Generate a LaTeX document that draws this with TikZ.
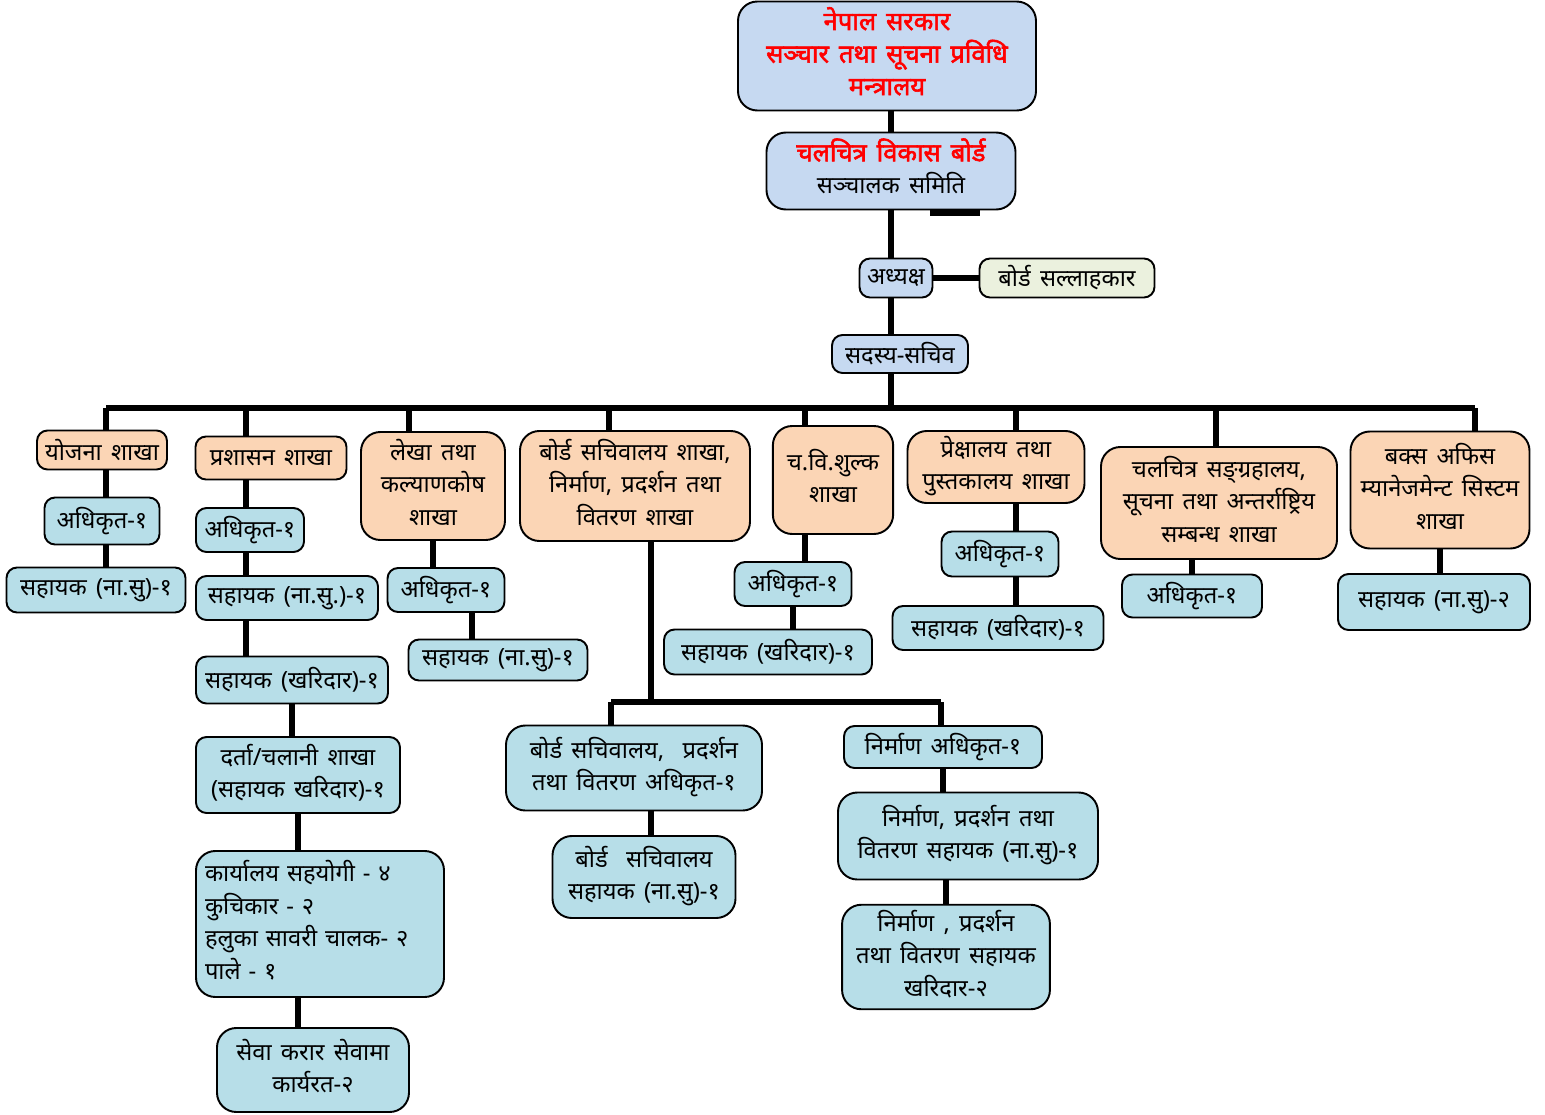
\documentclass[tikz,border=0pt]{standalone}
\usepackage{fontspec}
\setmainfont[Script=Devanagari, WordSpace=1.5]{Noto Sans}
\newfontfamily\titlefont[Script=Devanagari, WordSpace=1.5, FakeBold=2.2]{Noto Sans}
\usepackage{xcolor}
\usepackage{tikz}
\usetikzlibrary{calc}
\definecolor{topblue}{HTML}{C6D9F1}
\definecolor{advgreen}{HTML}{EBF1DE}
\definecolor{branchorange}{HTML}{FBD5B5}
\definecolor{postblue}{HTML}{B7DEE8}
\newcommand{\rtitle}[1]{\textcolor{red}{\titlefont\fontsize{14.5}{18.5}\selectfont #1}}
\tikzset{
    unit/.style={
      rectangle,
      rounded corners=6pt,
      draw=black, line width=1.1pt,
      inner sep=2pt,
      text centered,
      font=\fontsize{13.5}{18.5}\selectfont,
    },
    wh/.style 2 args={minimum width=#1*0.02cm, minimum height=#2*0.02cm},
    head/.style={unit, fill=topblue},
    adviser/.style={unit, fill=advgreen},
    branch/.style={unit, fill=branchorange},
    post/.style={unit, fill=postblue},
    big/.style={rounded corners=11pt},
    link/.style={line width=2.9pt},
}

\begin{document}
\begin{tikzpicture}[x=0.02cm, y=-0.02cm]
    \useasboundingbox (0,0) rectangle (1545,1115);

    % top of the chart
    \node[head, big, wh={298}{109}] (MIN) at (887,56)
    {
      \begin{tabular}{c}
        \rtitle{नेपाल सरकार} \\
        \rtitle{सञ्चार तथा सूचना प्रविधि} \\
        \rtitle{मन्त्रालय}
      \end{tabular}
    };

    \node[head, big, wh={249}{77}] (BOARD) at (891,171)
    {
      \begin{tabular}{c}
        \rtitle{चलचित्र विकास बोर्ड} \\
        सञ्चालक समिति
      \end{tabular}
    };

    \node[head, wh={73}{39}] (CHAIR) at (896,278) {अध्यक्ष};
    \node[adviser, wh={175}{39}] (ADV) at (1067,278) {बोर्ड सल्लाहकार};
    \node[head, wh={136}{38}] (SEC) at (900,354) {सदस्य-सचिव};

    % branches
    \node[branch, wh={130}{39}] (B1) at (102,450) {योजना शाखा};
    \node[branch, wh={151}{43}] (B2) at (271,458) {प्रशासन शाखा};

    \node[branch, big, wh={144}{108}] (B3) at (433,486)
    {
      \begin{tabular}{c}
        लेखा तथा \\
        कल्याणकोष \\
        शाखा
      \end{tabular}
    };

    \node[branch, big, wh={230}{110}] (B4) at (635,486)
    {
      \begin{tabular}{c}
        बोर्ड सचिवालय शाखा, \\
        निर्माण, प्रदर्शन तथा \\
        वितरण शाखा
      \end{tabular}
    };

    \node[branch, big, wh={120}{108}] (B5) at (833,480)
    {
      \begin{tabular}{c}
        च.वि.शुल्क \\
        शाखा
      \end{tabular}
    };

    \node[branch, big, wh={177}{72}] (B6) at (996,467)
    {
      \begin{tabular}{c}
        प्रेक्षालय तथा \\
        पुस्तकालय शाखा
      \end{tabular}
    };

    \node[branch, big, wh={236}{112}] (B7) at (1219,503)
    {
      \begin{tabular}{c}
        चलचित्र सङ्ग्रहालय, \\
        सूचना तथा अन्तर्राष्ट्रिय \\
        सम्बन्ध शाखा
      \end{tabular}
    };

    \node[branch, big, wh={179}{117}] (B8) at (1440,490)
    {
      \begin{tabular}{@{}c@{}}
        बक्स अफिस \\
        म्यानेजमेन्ट सिस्टम \\
        शाखा
      \end{tabular}
    };

    % posts under each branch
    \node[post, wh={115}{47}] (B1a) at (102,521) {अधिकृत-१};
    \node[post, wh={179}{45}] (B1b) at (96,590) {सहायक (ना.सु)-१};

    \node[post, wh={108}{44}] (B2a) at (250,530) {अधिकृत-१};
    \node[post, wh={182}{44}] (B2b) at (287,598) {सहायक (ना.सु.)-१};
    \node[post, wh={192}{47}] (B2c) at (292,680) {सहायक (खरिदार)-१};

    \node[post, wh={204}{76}] (B2d) at (298,775)
    {
      \begin{tabular}{c}
        दर्ता/चलानी शाखा \\
        (सहायक खरिदार)-१
      \end{tabular}
    };

    \node[post, big, wh={248}{146}, text width=4.6cm, align=left] (B2e) at (320,924)
    {
      \begin{tabular}{@{}l}
        कार्यालय सहयोगी - ४ \\
        कुचिकार - २ \\
        हलुका सावरी चालक- २ \\
        पाले - १
      \end{tabular}
    };

    \node[post, big, wh={192}{84}] (B2f) at (313,1070)
    {
      \begin{tabular}{c}
        सेवा करार सेवामा \\
        कार्यरत-२
      \end{tabular}
    };

    \node[post, wh={117}{44}] (B3a) at (446,590) {अधिकृत-१};
    \node[post, wh={179}{41}] (B3b) at (498,660) {सहायक (ना.सु)-१};

    \node[post, big, wh={256}{85}] (B4a) at (634,768)
    {
      \begin{tabular}{c}
        बोर्ड सचिवालय,\ \ प्रदर्शन \\
        तथा वितरण अधिकृत-१
      \end{tabular}
    };

    \node[post, big, wh={183}{82}] (B4b) at (644,877)
    {
      \begin{tabular}{c}
        बोर्ड\ \ सचिवालय \\
        सहायक (ना.सु)-१
      \end{tabular}
    };

    \node[post, wh={198}{42}] (B4c) at (943,747) {निर्माण अधिकृत-१};

    \node[post, big, wh={260}{87}] (B4d) at (968,836)
    {
      \begin{tabular}{c}
        निर्माण, प्रदर्शन तथा \\
        वितरण सहायक (ना.सु)-१
      \end{tabular}
    };

    \node[post, big, wh={204}{104}] (B4e) at (946,957)
    {
      \begin{tabular}{c}
        निर्माण , प्रदर्शन \\
        तथा वितरण सहायक \\
        खरिदार-२
      \end{tabular}
    };

    \node[post, wh={117}{44}] (B5a) at (793,584) {अधिकृत-१};
    \node[post, wh={208}{45}] (B5b) at (768,652) {सहायक (खरिदार)-१};

    \node[post, wh={117}{45}] (B6a) at (1000,554) {अधिकृत-१};
    \node[post, wh={211}{44}] (B6b) at (998,628) {सहायक (खरिदार)-१};

    \node[post, wh={140}{43}] (B7a) at (1192,596) {अधिकृत-१};

    \node[post, wh={192}{56}] (B8a) at (1434,602) {सहायक (ना.सु)-२};

    % bus points
    \coordinate (D1) at (106,408);
    \coordinate (D2) at (246,408);
    \coordinate (D3) at (409,408);
    \coordinate (D4) at (609,408);
    \coordinate (D5) at (805,408);
    \coordinate (D6) at (1016,408);
    \coordinate (D7) at (1216,408);
    \coordinate (D8) at (1475,408);
    \coordinate (E0) at (651,702);
    \coordinate (EL) at (611,702);
    \coordinate (ER) at (941,702);
    \coordinate (STUBL) at (930,213);
    \coordinate (STUBR) at (980,213);
    \coordinate (M3) at ($(B3a.south)!0.5!(B3b.north)$);

    % trunk
    \draw[link] (MIN.south -| BOARD) -- (BOARD.north);
    \draw[link] (BOARD.south) -- (CHAIR.north -| BOARD);
    \draw[link] (CHAIR.south -| BOARD) -- (SEC.north -| BOARD);
    \draw[link] (SEC.south -| BOARD) -- (BOARD |- D1);
    \draw[link] (CHAIR.east) -- (ADV.west);
    \draw[line width=3pt] (STUBL) -- (STUBR);

    \draw[link] (D1) -- (D8);
    \foreach \d/\b in {D1/B1, D2/B2, D3/B3, D4/B4, D5/B5, D6/B6, D7/B7, D8/B8}
      \draw[link] (\d) -- (\d |- \b.north);

    % branch lines
    \draw[link] (B1.south -| D1) -- (B1a.north -| D1);
    \draw[link] (B1a.south -| D1) -- (B1b.north -| D1);

    \draw[link] (B2.south -| D2) -- (B2a.north -| D2);
    \draw[link] (B2a.south -| D2) -- (B2b.north -| D2);
    \draw[link] (B2b.south -| D2) -- (B2c.north -| D2);
    \draw[link] (B2c.south) -- (B2c.south |- B2d.north);
    \draw[link] (B2d.south) -- (B2d.south |- B2e.north);
    \draw[link] (B2e.south -| B2d) -- (B2f.north -| B2d);

    \draw[link] (B3.south) -- (B3.south |- B3a.north);
    \draw[link] (B3a.south -| M3) -- (B3b.north -| M3);

    \draw[link] (B4.south -| E0) -- (E0);
    \draw[link] (EL) -- (ER);
    \draw[link] (EL) -- (EL |- B4a.north);
    \draw[link] (ER) -- (ER |- B4c.north);
    \draw[link] (B4a.south -| E0) -- (B4b.north -| E0);
    \draw[link] (B4c.south) -- (B4c.south |- B4d.north);
    \draw[link] (B4d.south -| B4e) -- (B4e.north);

    \draw[link] (B5.south -| D5) -- (B5a.north -| D5);
    \draw[link] (B5a.south) -- (B5a.south |- B5b.north);

    \draw[link] (B6.south -| D6) -- (B6a.north -| D6);
    \draw[link] (B6a.south -| D6) -- (B6b.north -| D6);

    \draw[link] (B7.south -| B7a) -- (B7a.north);

    \draw[link] (B8.south) -- (B8.south |- B8a.north);

\end{tikzpicture}
\end{document}
